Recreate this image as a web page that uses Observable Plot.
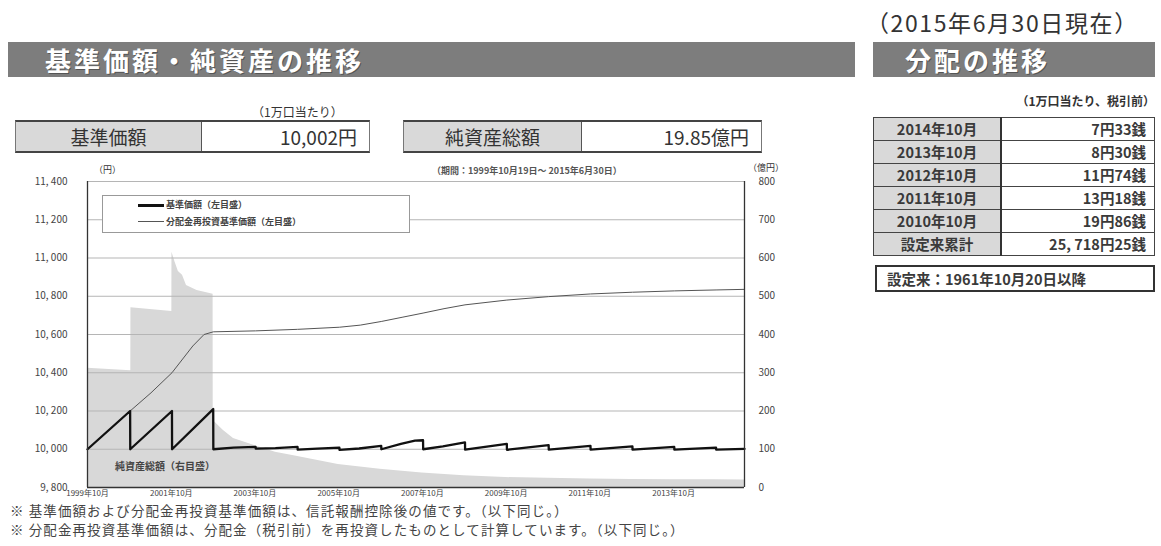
<!DOCTYPE html>
<html><head><meta charset="utf-8">
<script src="https://cdn.jsdelivr.net/npm/d3@7"></script>
<script src="https://cdn.jsdelivr.net/npm/@observablehq/plot@0.6"></script>
<style>
html,body{margin:0;padding:0;background:#fff;}
body{width:1161px;height:546px;position:relative;overflow:hidden;font-family:"Noto Sans CJK JP","Noto Sans",sans-serif;color:#333;}
.abs{position:absolute;white-space:nowrap;}
.bar{background:#7d7d7d;color:#fff;font-weight:bold;font-size:26px;line-height:35px;letter-spacing:3px;text-shadow:1px 1px 0 #555;}
.box{border-top:2px solid #444;border-bottom:2px solid #444;border-left:1px solid #777;border-right:1px solid #777;display:flex;box-sizing:border-box;}
.box .l{background:#d9d9d9;border-right:1.5px solid #555;text-align:center;}
.box .r{flex:1;text-align:right;padding-right:12px;}
table{border-collapse:collapse;}
td{border:1.5px solid #444;height:22px;padding:0;font-size:14.5px;font-weight:bold;color:#3a3a3a;line-height:22px;}
td.l{background:#d9d9d9;text-align:center;width:126px;border-right:2px solid #333;}
td.r{text-align:right;padding-right:8px;}
.note{font-size:13.5px;line-height:17px;color:#444;letter-spacing:1.1px;}
</style></head>
<body>
<div id="page"></div>
<script>
// ---------------- data ----------------
const baseDates = ["1999-10-19","2000-10-25","2000-10-26","2001-10-25","2001-10-26","2002-10-20","2002-10-21",
 "2003-04-15","2003-10-25","2003-10-26","2004-04-15","2004-10-25","2004-10-26","2005-04-15","2005-10-25","2005-10-26",
 "2006-04-15","2006-10-25","2006-10-26","2007-04-15","2007-08-15","2007-10-25","2007-10-26","2008-04-15","2008-10-25","2008-10-26",
 "2009-10-25","2009-10-26","2010-10-25","2010-10-26","2011-10-25","2011-10-26","2012-10-25","2012-10-26",
 "2013-10-25","2013-10-26","2014-10-25","2014-10-26","2015-06-30"];
const baseValues = [10000,10200,10000,10200,10000,10210,10000,
 10008,10012,10003,10006,10012,9998,10003,10008,9997,
 10004,10018,10000,10028,10045,10047,10000,10015,10036,9998,
 10028,9997,10022,9998,10018,9998,10015,9998,
 10012,9998,10008,9998,10002];

const reinvestDates = ["1999-10-19","2000-10-25","2001-04-25","2001-10-25","2002-04-25","2002-08-01","2002-10-21",
 "2003-10-25","2004-10-25","2005-10-25","2006-04-25","2006-10-25","2007-04-25","2007-10-25","2008-04-25","2008-10-25",
 "2009-10-25","2010-10-25","2011-10-25","2012-10-25","2013-10-25","2014-10-25","2015-06-30"];
const reinvestValues = [10000,10200,10295,10400,10540,10600,10614,
 10619,10627,10638,10649,10668,10690,10712,10735,10755,
 10780,10798,10812,10821,10828,10833,10836];

const assetDates = ["1999-10-19","2000-10-31","2000-11-01","2001-10-24","2001-10-25","2001-11-20","2001-12-20","2002-01-25",
 "2002-03-01","2002-06-01","2002-10-19","2002-10-20","2003-01-15","2003-04-15","2003-10-15","2004-04-15","2004-10-15",
 "2005-10-15","2006-10-15","2007-10-15","2008-10-15","2009-10-15","2010-10-15","2011-10-15","2012-10-15","2013-10-15",
 "2014-10-15","2015-06-30"];
const assetValues = [312,305,470,460,615,590,565,555,
 528,515,505,175,150,128,110,92,82,
 60,48,38,31,26,24,22,21,20,
 20,19.85];

const leftTicks = [9800,10000,10200,10400,10600,10800,11000,11200,11400];
const rightTicks = [0,100,200,300,400,500,600,700,800];
const xTickYears = [1999,2001,2003,2005,2007,2009,2011,2013];

const distLabels = ["2014年10月","2013年10月","2012年10月","2011年10月","2010年10月","設定来累計"];
const distAmounts = ["7円33銭","8円30銭","11円74銭","13円18銭","19円86銭","25, 718円25銭"];

// ---------------- build ----------------
const parse = d3.utcParse("%Y-%m-%d");
const base = baseDates.map((d,i)=>({date:parse(d), v:baseValues[i]}));
const reinvest = reinvestDates.map((d,i)=>({date:parse(d), v:reinvestValues[i]}));
const assets = assetDates.map((d,i)=>({date:parse(d), v:assetValues[i]}));
const xStart = parse("1999-10-19"), xEnd = parse("2015-06-30");
const xTicks = xTickYears.map(y=>new Date(Date.UTC(y,9,19)));
// right axis (億円) mapped onto the left scale: 0→9800, 800→11400
const toLeft = v => 9800 + v*2;
const rightAsLeft = rightTicks.map(toLeft);

const page = document.getElementById("page");
function add(html){ page.insertAdjacentHTML("beforeend", html); }

add(`<div class="abs bar" style="left:8px;top:42px;width:847px;height:35px;padding-left:37px;box-sizing:border-box;">基準価額・純資産の推移</div>`);
add(`<div class="abs" style="left:252px;top:103px;font-size:12px;">（1万口当たり）</div>`);
add(`<div class="abs box" style="left:15px;top:120px;width:355px;height:33px;font-size:19px;line-height:29px;"><div class="l" style="width:185px;">基準価額</div><div class="r">10,002円</div></div>`);
add(`<div class="abs box" style="left:403px;top:120px;width:359px;height:33px;font-size:19px;line-height:29px;"><div class="l" style="width:177px;">純資産総額</div><div class="r">19.85億円</div></div>`);

add(`<div class="abs" style="left:866px;top:5px;font-size:23px;letter-spacing:1.6px;color:#333;">（2015年6月30日現在）</div>`);
add(`<div class="abs bar" style="left:873px;top:42px;width:282px;height:35px;padding-left:32px;box-sizing:border-box;">分配の推移</div>`);
add(`<div class="abs" style="right:6px;top:92px;font-size:12px;font-weight:bold;">（1万口当たり、税引前）</div>`);
let rows = distLabels.map((l,i)=>`<tr><td class="l">${l}</td><td class="r">${distAmounts[i]}</td></tr>`).join("");
add(`<table class="abs" style="left:873px;top:117px;width:282px;">${rows}</table>`);
add(`<div class="abs" style="left:875px;top:265px;width:280px;height:27px;box-sizing:border-box;border:2px solid #333;font-size:14.5px;font-weight:bold;line-height:23px;padding-left:10px;color:#3a3a3a;">設定来：1961年10月20日以降</div>`);

add(`<div class="abs note" style="left:10px;top:502px;">※ 基準価額および分配金再投資基準価額は、信託報酬控除後の値です。（以下同じ。）</div>`);
add(`<div class="abs note" style="left:10px;top:521px;">※ 分配金再投資基準価額は、分配金（税引前）を再投資したものとして計算しています。（以下同じ。）</div>`);

// chart
const chart = Plot.plot({
  width: 800, height: 340,
  marginLeft: 87, marginRight: 56, marginTop: 21, marginBottom: 13,
  style: {fontFamily: '"Noto Sans CJK JP", sans-serif', fontSize: "10px", color: "#444", background: "transparent", overflow: "visible"},
  x: {type: "utc", domain: [xStart, xEnd]},
  y: {domain: [9800, 11400]},
  marks: [
    Plot.areaY(assets, {x: "date", y1: 9800, y2: d => toLeft(d.v), fill: "#d8d8d8"}),
    Plot.gridY(leftTicks, {stroke: "#b5b5b5", strokeOpacity: 1, strokeWidth: 1}),
    Plot.line(reinvest, {x: "date", y: "v", stroke: "#555", strokeWidth: 1}),
    Plot.line(base, {x: "date", y: "v", stroke: "#111", strokeWidth: 2.3}),
    Plot.ruleX([xStart, xEnd], {stroke: "#333", strokeWidth: 1.3}),
    Plot.ruleY([9800], {stroke: "#333", strokeWidth: 1.3}),
    Plot.axisY({anchor: "left", ticks: leftTicks, tickSize: 0, tickPadding: 20, label: null,
      tickFormat: d => d3.format(",")(d).replace(",", ", "), fontSize: 10}),
    Plot.axisY({anchor: "right", ticks: rightAsLeft, tickSize: 0, tickPadding: 14, label: null,
      tickFormat: d => String((d - 9800) / 2), fontSize: 10}),
    Plot.axisX({ticks: xTicks, tickSize: 0, tickPadding: 3, label: null,
      tickFormat: d => `${d.getUTCFullYear()}年10月`, fontSize: 8})
  ]
});
chart.style.position = "absolute";
chart.style.left = "0px";
chart.style.top = "160px";
page.appendChild(chart);

add(`<div class="abs" style="left:94px;top:163px;font-size:9px;">（円）</div>`);
add(`<div class="abs" style="left:748px;top:161px;font-size:9px;">（億円）</div>`);
add(`<div class="abs" style="left:432px;top:164px;font-size:9px;font-weight:bold;color:#555;">（期間：1999年10月19日～ 2015年6月30日）</div>`);
add(`<div class="abs" style="left:102px;top:195px;width:308px;height:38px;box-sizing:border-box;border:1px solid #999;background:#fff;"></div>`);
add(`<div class="abs" style="left:138px;top:204px;width:26px;height:2.5px;background:#111;"></div>`);
add(`<div class="abs" style="left:166px;top:198px;font-size:9px;font-weight:bold;color:#444;">基準価額（左目盛）</div>`);
add(`<div class="abs" style="left:138px;top:221px;width:26px;height:1px;background:#555;"></div>`);
add(`<div class="abs" style="left:166px;top:215px;font-size:9px;font-weight:bold;color:#444;">分配金再投資基準価額（左目盛）</div>`);
add(`<div class="abs" style="left:115px;top:458px;font-size:10px;font-weight:bold;color:#444;">純資産総額（右目盛）</div>`);
</script>
</body></html>
